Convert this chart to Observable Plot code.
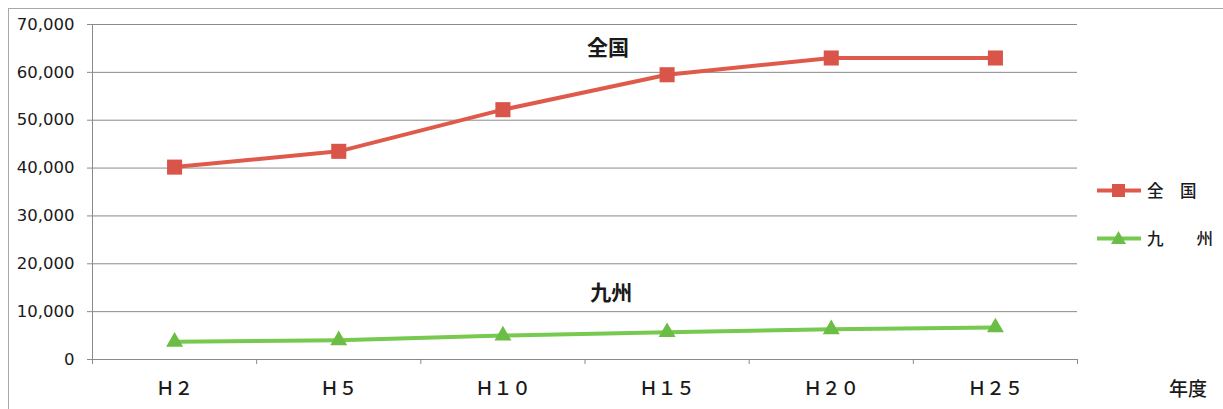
<!DOCTYPE html>
<html>
<head>
<meta charset="utf-8">
<script src="https://cdn.jsdelivr.net/npm/d3@7"></script>
<script src="https://cdn.jsdelivr.net/npm/@observablehq/plot@0.6"></script>
<style>
  html, body { margin: 0; padding: 0; background: #fff; }
  #wrap { position: relative; width: 1223px; height: 409px; overflow: hidden; }
  #frame { position: absolute; left: 8px; top: 8px; width: 1230px; height: 420px; border: 1px solid #a8a8a8; box-sizing: border-box; pointer-events: none; }
  #legend { position: absolute; left: 1097px; top: 178px; font-family: "Noto Sans CJK JP", sans-serif; font-size: 16.5px; font-weight: 500; color: #1a1a1a; }
  #legend .row { display: flex; align-items: center; height: 24px; margin-bottom: 24px; }
  #legend svg { margin-right: 6px; }
  #xlabel { position: absolute; left: 1169px; top: 374px; font-family: "Noto Sans CJK JP", sans-serif; font-size: 19px; font-weight: 500; color: #1a1a1a; }
</style>
</head>
<body>
<div id="wrap">
  <div id="chart"></div>
  <div id="frame"></div>
  <div id="legend"></div>
  <div id="xlabel">年度</div>
</div>
<script>
const categories = ["Ｈ２", "Ｈ５", "Ｈ１０", "Ｈ１５", "Ｈ２０", "Ｈ２５"];
const zenkoku = [40200, 43500, 52200, 59500, 63000, 63000];
const kyushu = [3700, 4000, 5000, 5700, 6300, 6700];
const seriesNames = ["全国", "九州"];
const legendLabels = ["全　国", "九　　州"];
const yTicks = [0, 10000, 20000, 30000, 40000, 50000, 60000, 70000];
const annotations = [
  {label: "全国", pos: 3.14, value: 65000},
  {label: "九州", pos: 3.16, value: 13800}
];

const red = "#df5a4b";
const redMark = "#d9554a";
const green = "#77c94f";
const greenMark = "#6cbd46";

const rows = [];
categories.forEach((c, i) => {
  rows.push({series: seriesNames[0], pos: i + 0.5, value: zenkoku[i]});
  rows.push({series: seriesNames[1], pos: i + 0.5, value: kyushu[i]});
});
const boundaries = d3.range(categories.length + 1);
const centers = categories.map((c, i) => i + 0.5);

const chart = Plot.plot({
  width: 1223,
  height: 409,
  marginLeft: 92,
  marginRight: 146,
  marginTop: 24,
  marginBottom: 50,
  style: {background: "transparent", color: "#1a1a1a"},
  x: {type: "linear", domain: [0, categories.length]},
  y: {domain: [0, 70000]},
  marks: [
    Plot.gridY(yTicks, {stroke: "#8a8a8a", strokeOpacity: 1, strokeWidth: 1}),
    Plot.ruleX([0], {stroke: "#8a8a8a", strokeWidth: 1}),
    Plot.ruleY([0], {stroke: "#8a8a8a", strokeWidth: 1}),
    Plot.axisY({ticks: yTicks, tickFormat: d3.format(","), tickSize: 5, tickPadding: 13, fontSize: 16.5, fontFamily: "DejaVu Sans", stroke: "#8a8a8a", label: null}),
    Plot.axisX({ticks: boundaries, tickFormat: () => "", tickSize: 5, stroke: "#8a8a8a", label: null}),
    Plot.axisX({ticks: centers, tickFormat: (d, i) => categories[i], tickSize: 0, tickPadding: 22, fontSize: 18.5, fontWeight: 500, fontFamily: "Noto Sans CJK JP", label: null}),
    Plot.line(rows.filter(d => d.series === seriesNames[0]), {x: "pos", y: "value", stroke: red, strokeWidth: 4}),
    Plot.line(rows.filter(d => d.series === seriesNames[1]), {x: "pos", y: "value", stroke: green, strokeWidth: 4}),
    Plot.dot(rows.filter(d => d.series === seriesNames[0]), {x: "pos", y: "value", symbol: "square", r: 8.5, fill: redMark, stroke: null}),
    Plot.dot(rows.filter(d => d.series === seriesNames[1]), {x: "pos", y: "value", symbol: "triangle", r: 6.3, fill: greenMark, stroke: null}),
    Plot.text(annotations, {x: "pos", y: "value", text: "label", fontSize: 21, fontWeight: "bold", fontFamily: "Noto Sans CJK JP", fill: "#1a1a1a"})
  ]
});
document.getElementById("chart").appendChild(chart);

// legend
const legend = document.getElementById("legend");
const swatches = [
  {color: red, mark: redMark, shape: "square"},
  {color: green, mark: greenMark, shape: "triangle"}
];
legendLabels.forEach((lab, i) => {
  const row = document.createElement("div");
  row.className = "row";
  const sw = swatches[i];
  const shape = sw.shape === "square"
    ? `<rect x="15" y="5" width="13" height="13" fill="${sw.mark}"/>`
    : `<path d="M21.5,4 L29,17 L14,17 Z" fill="${sw.mark}"/>`;
  row.innerHTML = `<svg width="44" height="22"><line x1="0" x2="44" y1="11.5" y2="11.5" stroke="${sw.color}" stroke-width="4"/>${shape}</svg><span style="white-space:pre">${lab}</span>`;
  legend.appendChild(row);
});
</script>
</body>
</html>
